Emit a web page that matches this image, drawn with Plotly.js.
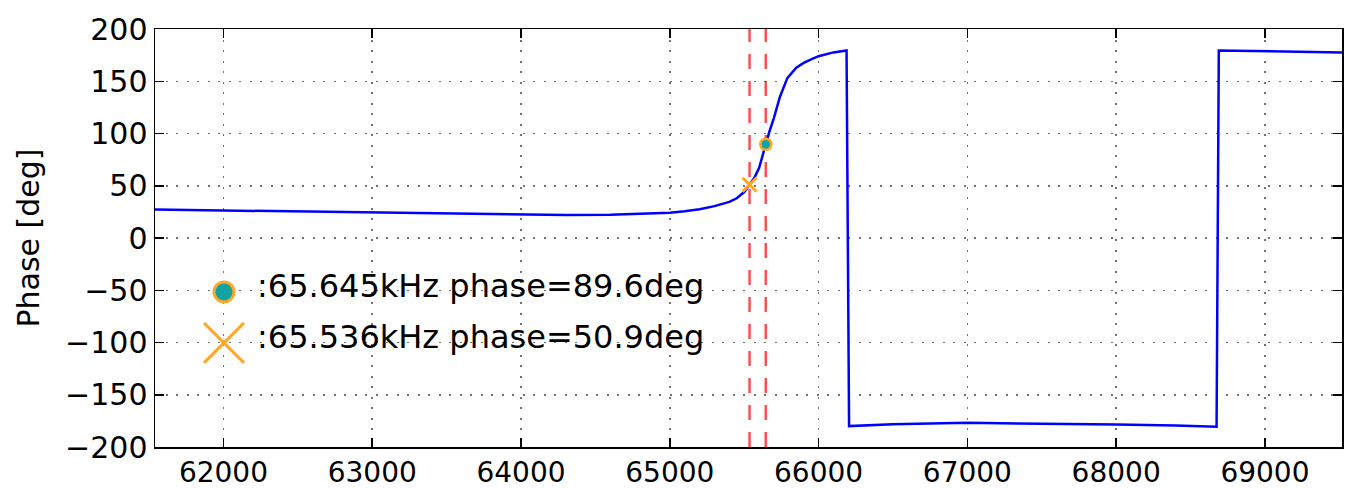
<!DOCTYPE html>
<html>
<head>
<meta charset="utf-8">
<script src="https://cdn.plot.ly/plotly-3.0.1.min.js"></script>
<style>
html,body{margin:0;padding:0;background:#fff;}
#chart{width:1346px;height:488px;}
</style>
</head>
<body>
<div id="chart"></div>
<script>
// ---- data ----
var freq = [61540, 62000, 62500, 63000, 63500, 64000, 64300, 64600, 64800, 64900, 65000, 65100, 65200, 65300, 65400, 65450, 65500, 65536, 65570, 65600, 65620, 65645, 65670, 65700, 65740, 65790, 65850, 65900, 65950, 66000, 66100, 66188, 66205, 66500, 67000, 67500, 68000, 68400, 68675, 68690, 69000, 69518];
var phase = [27.2, 26.3, 25.3, 24.4, 23.4, 22.5, 22.1, 22.3, 23.0, 23.5, 24.2, 25.5, 27.6, 30.5, 34.5, 38, 44, 50.9, 58, 67, 76, 89.6, 102, 115, 135, 153, 163, 167.5, 171, 174, 177.6, 179.5, -180, -178.3, -176.9, -177.4, -178.5, -179.5, -180.7, 179.5, 179, 177.5];

var markerFreqKHz = [65.645, 65.536];
var markerPhase = [89.6, 50.9];

var xTicks = [62000, 63000, 64000, 65000, 66000, 67000, 68000, 69000];
var yTicks = [-200, -150, -100, -50, 0, 50, 100, 150, 200];
var xRange = [61540, 69518];
var yRange = [-200, 200];
var yLabel = 'Phase [deg]';

// ---- styles ----
var FONT = 'DejaVu Sans, Bitstream Vera Sans, sans-serif';
var ORANGE = '#ffa726';
var TEAL = '#13a3a3';

var traces = [];
traces.push({
  x: freq, y: phase, type: 'scatter', mode: 'lines',
  line: {color: '#0000ff', width: 2.5}, hoverinfo: 'skip', showlegend: false
});
// markers on the curve
traces.push({
  x: [markerFreqKHz[0] * 1000], y: [markerPhase[0]], type: 'scatter', mode: 'markers',
  marker: {symbol: 'circle', size: 11, color: TEAL, line: {color: ORANGE, width: 2.5}},
  showlegend: false
});
traces.push({
  x: [markerFreqKHz[1] * 1000], y: [markerPhase[1]], type: 'scatter', mode: 'markers',
  marker: {symbol: 'x-thin', size: 14, line: {color: ORANGE, width: 3}},
  showlegend: false
});
// legend symbols drawn on an overlay axis (0..1 box)
var legX = 0.0581, legY = [0.371, 0.249], legTextX = 0.0842, legTextY = [0.384, 0.264];
traces.push({
  x: [legX], y: [legY[0]], xaxis: 'x2', yaxis: 'y2', type: 'scatter', mode: 'markers',
  marker: {symbol: 'circle', size: 20, color: TEAL, line: {color: ORANGE, width: 3}},
  showlegend: false, hoverinfo: 'skip'
});
traces.push({
  x: [legX], y: [legY[1]], xaxis: 'x2', yaxis: 'y2', type: 'scatter', mode: 'markers',
  marker: {symbol: 'x-thin', size: 40, line: {color: ORANGE, width: 3}},
  showlegend: false, hoverinfo: 'skip'
});

var shapes = markerFreqKHz.map(function (f) {
  return {type: 'line', xref: 'x', yref: 'paper', x0: f * 1000, x1: f * 1000, y0: 0, y1: 1,
    line: {color: 'rgba(255,30,30,0.78)', width: 2.5, dash: '15px,12px'}, layer: 'below'};
});

var annotations = markerFreqKHz.map(function (f, i) {
  return {xref: 'x2', yref: 'y2', x: legTextX, y: legTextY[i], xanchor: 'left', yanchor: 'middle',
    showarrow: false, text: ':' + f.toFixed(3) + 'kHz phase=' + markerPhase[i].toFixed(1) + 'deg',
    font: {family: FONT, size: 32, color: '#000'}};
});

var axisCommon = {
  showline: true, linecolor: '#000', linewidth: 1.5, mirror: 'ticks',
  ticks: 'inside', ticklen: 9, tickwidth: 1.5, tickcolor: '#000',
  showgrid: true, gridcolor: 'rgba(0,0,0,0.55)', gridwidth: 1.5, griddash: '2px,8.5px',
  zeroline: false, tickfont: {family: FONT, size: 30, color: '#000'}
};

var layout = {
  width: 1346, height: 488,
  margin: {l: 155, r: 4, t: 29, b: 41, pad: 0},
  paper_bgcolor: '#fff', plot_bgcolor: '#fff',
  font: {family: FONT, color: '#000'},
  showlegend: false,
  xaxis: Object.assign({}, axisCommon, {
    range: xRange, tickmode: 'array', tickvals: xTicks, ticktext: xTicks.map(String),
    ticklabelstandoff: 0, tickfont: {family: FONT, size: 28, color: '#000'}
  }),
  yaxis: Object.assign({}, axisCommon, {
    range: yRange, tickmode: 'array', tickvals: yTicks,
    ticktext: yTicks.map(function (v) { return v < 0 ? '\u2212' + Math.abs(v) : String(v); }),
    ticklabelstandoff: 0,
    title: {text: yLabel, font: {family: FONT, size: 30, color: '#000'}, standoff: 16}
  }),
  xaxis2: {overlaying: 'x', range: [0, 1], visible: false, fixedrange: true},
  yaxis2: {overlaying: 'y', range: [0, 1], visible: false, fixedrange: true},
  shapes: shapes,
  annotations: annotations
};

Plotly.newPlot('chart', traces, layout, {staticPlot: true, displayModeBar: false});
</script>
</body>
</html>
